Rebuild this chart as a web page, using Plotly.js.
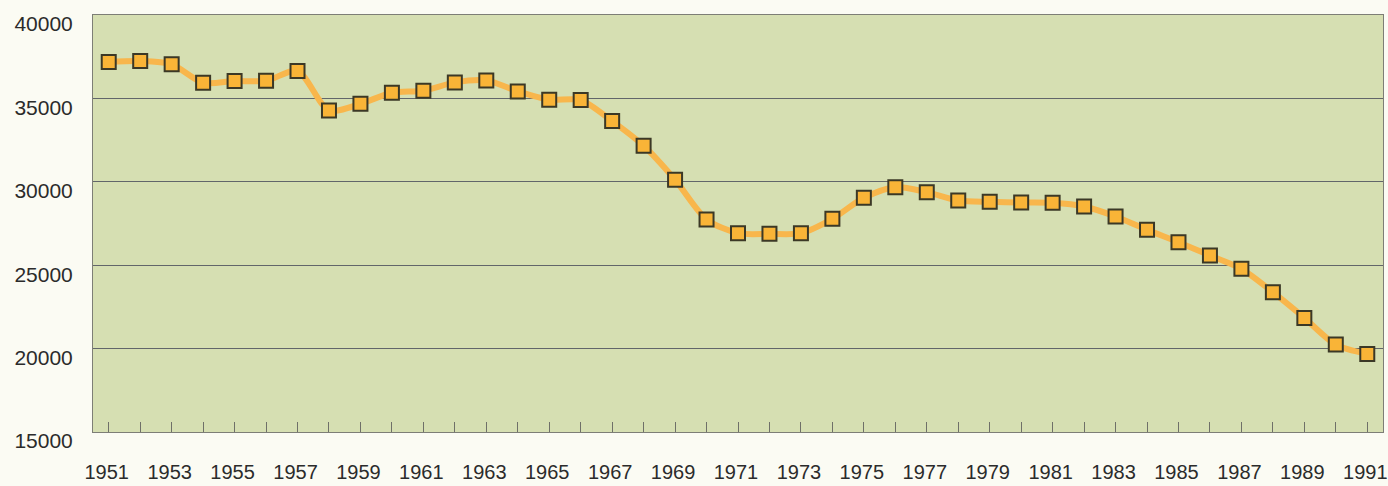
<!DOCTYPE html>
<html>
<head>
<meta charset="utf-8">
<script src="https://cdn.plot.ly/plotly-3.0.1.min.js"></script>
<style>html,body{margin:0;padding:0;background:#fbfbf3;}#chart{width:1388px;height:486px;}</style>
</head>
<body>
<div id="chart"></div>
<script>
const years = [1951,1952,1953,1954,1955,1956,1957,1958,1959,1960,
  1961,1962,1963,1964,1965,1966,1967,1968,1969,1970,
  1971,1972,1973,1974,1975,1976,1977,1978,1979,1980,
  1981,1982,1983,1984,1985,1986,1987,1988,1989,1990,1991];
const values = [37180,37240,37040,35940,36040,36060,36640,34280,34680,35340,
  35460,35960,36080,35420,34920,34900,33640,32160,30120,27740,
  26920,26880,26920,27780,29040,29680,29380,28880,28800,28760,
  28740,28520,27920,27120,26380,25580,24780,23380,21840,20240,19680];
const yTicks = [15000,20000,25000,30000,35000,40000];
const xLabels = years.map(y => (y % 2 === 1) ? String(y) : '');

const trace = {
  x: years, y: values, type: 'scatter', mode: 'lines+markers',
  line: {color: '#f8b64c', width: 6, shape: 'spline', smoothing: 0.8},
  marker: {symbol: 'square', size: 14, color: '#f9b437', line: {color: '#3b3826', width: 2}},
  hoverinfo: 'skip'
};
const layout = {
  width: 1388, height: 486,
  margin: {l: 93, r: 5, t: 15, b: 54},
  paper_bgcolor: '#fbfbf3', plot_bgcolor: '#d6dfb2',
  showlegend: false,
  font: {family: 'Liberation Sans, Arial, sans-serif', color: '#2b2b2b'},
  xaxis: {
    range: [1950.5, 1991.5], tickvals: years, ticktext: xLabels,
    ticks: 'inside', ticklen: 10, tickwidth: 1, tickcolor: '#6f7068',
    showgrid: false, zeroline: false,
    showline: true, linecolor: '#7d7e76', linewidth: 1, mirror: true,
    tickfont: {size: 20, color: '#2b2b2b'}, ticklabelstandoff: 22, ticklabelshift: -2,
    ticklabeloverflow: 'allow'
  },
  yaxis: {
    range: [15000, 40000], tickvals: yTicks, ticktext: yTicks.map(String),
    ticks: '', showgrid: true, gridcolor: '#62666a', gridwidth: 1,
    zeroline: false, showline: true, linecolor: '#7d7e76', linewidth: 1, mirror: true,
    tickfont: {size: 21, color: '#2b2b2b'}, ticklabelstandoff: 15, ticklabelshift: 9,
    ticklabeloverflow: 'allow'
  }
};
Plotly.newPlot('chart', [trace], layout, {staticPlot: true, displayModeBar: false});
</script>
</body>
</html>
